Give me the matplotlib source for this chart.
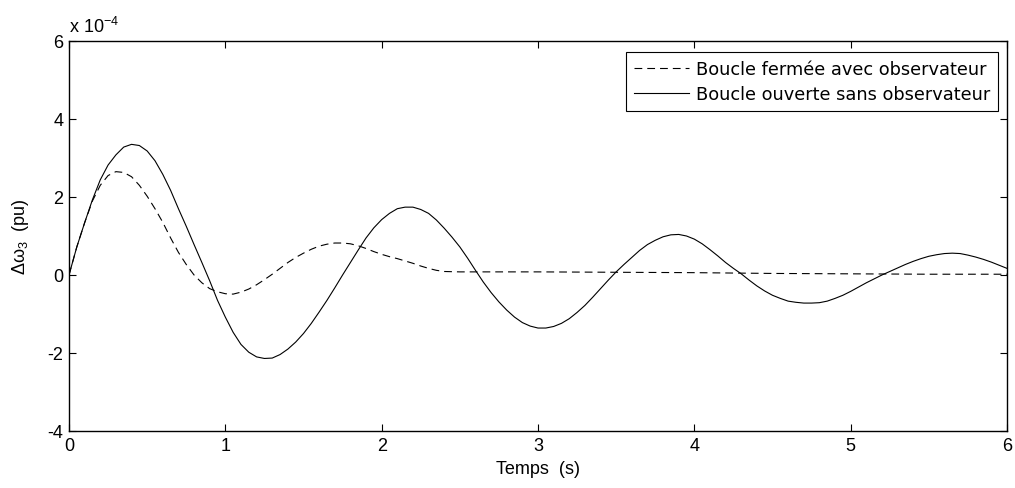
import matplotlib
matplotlib.use("Agg")
import matplotlib.pyplot as plt
import numpy as np

plt.rcParams['font.family'] = ['Liberation Sans', 'DejaVu Sans']
plt.rcParams['mathtext.fontset'] = 'custom'
plt.rcParams['mathtext.rm'] = 'Liberation Sans'
plt.rcParams['mathtext.it'] = 'Liberation Sans'

SCALE = 1e-4

# Time (s), 0.05 s steps
t_open = [round(0.05 * i, 2) for i in range(121)]
# Open loop without observer (x1e-4 pu)
w_open = [0.0, 0.72, 1.34, 1.93, 2.44, 2.82, 3.08, 3.28, 3.35, 3.32,
          3.18, 2.93, 2.58, 2.17, 1.70, 1.25, 0.78, 0.32, -0.15, -0.65,
          -1.08, -1.47, -1.78, -1.98, -2.10, -2.14, -2.13, -2.04, -1.90, -1.72,
          -1.50, -1.24, -0.95, -0.65, -0.33, 0.00, 0.32, 0.64, 0.95, 1.21,
          1.42, 1.58, 1.70, 1.74, 1.74, 1.68, 1.58, 1.41, 1.20, 0.97,
          0.72, 0.43, 0.12, -0.18, -0.45, -0.69, -0.90, -1.08, -1.22, -1.31,
          -1.36, -1.36, -1.32, -1.24, -1.12, -0.96, -0.78, -0.57, -0.35, -0.13,
          0.08, 0.27, 0.45, 0.63, 0.78, 0.89, 0.98, 1.03, 1.04, 1.00,
          0.92, 0.80, 0.65, 0.49, 0.32, 0.17, 0.03, -0.13, -0.28, -0.41,
          -0.52, -0.60, -0.67, -0.70, -0.72, -0.72, -0.71, -0.67, -0.60, -0.52,
          -0.42, -0.31, -0.20, -0.10, 0.00, 0.09, 0.18, 0.27, 0.35, 0.42,
          0.48, 0.52, 0.55, 0.56, 0.55, 0.51, 0.46, 0.40, 0.33, 0.25, 0.17]

t_closed = [round(0.05 * i, 2) for i in range(51)] + [3.0, 3.5, 4.0, 4.5, 5.0, 5.5, 6.0]
# Closed loop with observer (x1e-4 pu)
w_closed = [0.0, 0.72, 1.34, 1.90, 2.30, 2.55, 2.65, 2.63, 2.52, 2.30,
            2.02, 1.70, 1.35, 0.95, 0.58, 0.27, 0.00, -0.20, -0.35, -0.43,
            -0.48, -0.49, -0.44, -0.36, -0.25, -0.12, 0.02, 0.17, 0.32, 0.45,
            0.56, 0.66, 0.74, 0.79, 0.82, 0.82, 0.80, 0.75, 0.68, 0.60,
            0.53, 0.47, 0.42, 0.36, 0.30, 0.23, 0.17, 0.12, 0.09, 0.085,
            0.08,
            0.08, 0.07, 0.06, 0.04, 0.03, 0.02, 0.02]

labels = ['Boucle fermée avec observateur', 'Boucle ouverte sans observateur']

W, H = 1015, 489
fig = plt.figure(figsize=(W / 100, H / 100), dpi=100)
ax = fig.add_axes([69/W, 57/H, (1007-69)/W, (432-42)/H])

ax.plot(t_closed, np.array(w_closed) * SCALE, color='black', lw=0.8,
        dashes=(7, 4.5), label=labels[0])
ax.plot(t_open, np.array(w_open) * SCALE, color='black', lw=0.8,
        label=labels[1])

ax.set_xlim(0, 6)
ax.set_ylim(-4e-4, 6e-4)
ax.set_xticks([0, 1, 2, 3, 4, 5, 6])
yt = [-4, -2, 0, 2, 4, 6]
ax.set_yticks([v * SCALE for v in yt])
ax.set_yticklabels([str(v) for v in yt])
ax.tick_params(direction='in', top=True, right=True, length=5, width=0.8,
               labelsize=13, pad=4)
for s in ax.spines.values():
    s.set_linewidth(1.0)

ax.text(0.0, 1.012, 'x 10$^{-4}$', transform=ax.transAxes, fontsize=13,
        ha='left', va='bottom')
ax.set_xlabel('Temps  (s)', fontsize=13, labelpad=5)
ax.set_ylabel('Δω$_3$  (pu)', fontsize=13, labelpad=12)

leg = ax.legend(loc='upper right', bbox_to_anchor=(998/W, (H-53)/H),
                bbox_transform=fig.transFigure, borderaxespad=0,
                prop={'family': 'DejaVu Sans', 'size': 12.8},
                handlelength=3.1, frameon=True, fancybox=False, framealpha=1,
                borderpad=0.45, labelspacing=0.4, handletextpad=0.4)
leg.get_frame().set_edgecolor('black')
leg.get_frame().set_linewidth(0.8)

fig.savefig('out.png', dpi=100)
